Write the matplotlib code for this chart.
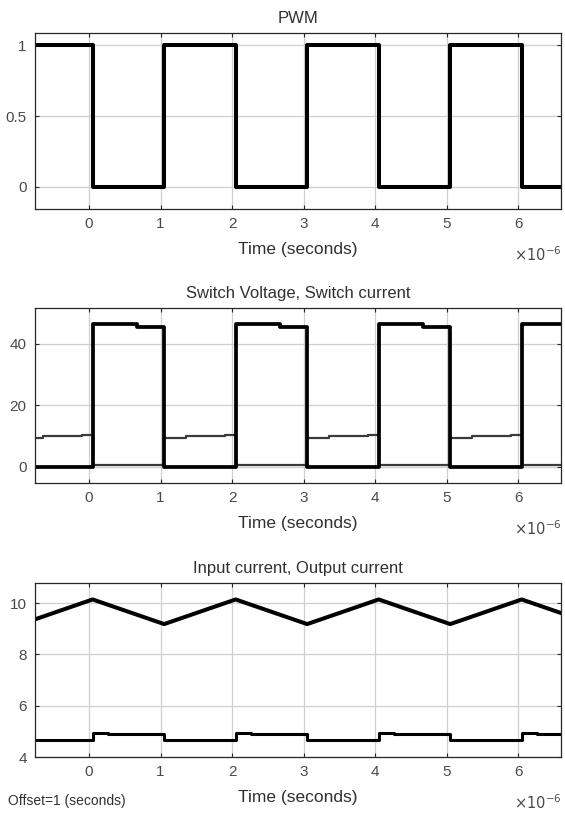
import matplotlib
matplotlib.use("Agg")
import matplotlib.pyplot as plt

plt.rcParams['font.family'] = ['Liberation Sans', 'DejaVu Sans']

# time in microseconds, relative to offset = 1 s
pwm_t = [-0.75, 0.05, 1.05, 2.05, 3.05, 4.05, 5.05, 6.05, 6.6]
pwm_v = [1, 0, 1, 0, 1, 0, 1, 0, 0]

vsw_t = [-0.75, 0.05, 0.67, 1.05, 2.05, 2.67, 3.05, 4.05, 4.67, 5.05, 6.05, 6.6]
vsw_v = [0, 46.4, 45.6, 0, 46.4, 45.6, 0, 46.4, 45.6, 0, 46.4, 46.4]

isw_t = [-0.75, -0.65, -0.1, 0.05, 1.05, 1.35, 1.9, 2.05, 3.05, 3.35, 3.9, 4.05,
         5.05, 5.35, 5.9, 6.05, 6.6]
isw_v = [9.3, 10.0, 10.5, 0.5, 9.3, 10.0, 10.5, 0.5, 9.3, 10.0, 10.5, 0.5,
         9.3, 10.0, 10.5, 0.5, 0.5]

iin_t = [-0.75, 0.05, 1.05, 2.05, 3.05, 4.05, 5.05, 6.05, 6.6]
iin_v = [9.37, 10.14, 9.18, 10.14, 9.18, 10.14, 9.18, 10.14, 9.61]

iout_t = [-0.75, 0.05, 0.27, 1.05, 2.05, 2.27, 3.05, 4.05, 4.27, 5.05, 6.05, 6.27, 6.6]
iout_v = [4.66, 4.95, 4.88, 4.66, 4.95, 4.88, 4.66, 4.95, 4.88, 4.66, 4.95, 4.88, 4.88]

xticks = [0, 1, 2, 3, 4, 5, 6]

fig = plt.figure(figsize=(5.65, 8.16), dpi=100)
boxes = [
    [0.062, 0.7439, 0.931, 0.2157],
    [0.062, 0.4081, 0.931, 0.2145],
    [0.062, 0.0723, 0.931, 0.2132],
]
titles = ["PWM", "Switch Voltage, Switch current", "Input current, Output current"]
ylims = [(-0.155, 1.085), (-5.2, 51.7), (4, 10.78)]
yticks = [[0, 0.5, 1], [0, 20, 40], [4, 6, 8, 10]]
ylabels = [["0", "0.5", "1"], ["0", "20", "40"], ["4", "6", "8", "10"]]

axes = []
for i in range(3):
    ax = fig.add_axes(boxes[i])
    ax.set_xlim(-0.755, 6.6)
    ax.set_ylim(*ylims[i])
    ax.set_xticks(xticks)
    ax.set_yticks(yticks[i])
    ax.set_yticklabels(ylabels[i])
    ax.grid(True, color='#cfcfcf', lw=0.9)
    ax.set_axisbelow(True)
    ax.tick_params(direction='in', length=3, width=0.8, colors='#262626',
                   labelcolor='#4a4a4a', labelsize=11, top=True, right=True,
                   pad=6)
    for s in ax.spines.values():
        s.set_color('#262626')
        s.set_linewidth(0.9)
    ax.set_title(titles[i], fontsize=12, color='#303030', pad=7)
    ax.set_xlabel("Time (seconds)", fontsize=12.5, color='#303030')
    ax.xaxis.set_label_coords(0.5, -0.19)
    ax.text(1.0, -0.26, r'$\times10^{-6}$', transform=ax.transAxes,
            ha='right', va='center', fontsize=10.5, color='#4a4a4a')
    axes.append(ax)

axes[0].step(pwm_t, pwm_v, where='post', color='black', lw=2.9)

axes[1].step(isw_t, isw_v, where='post', color='#3a3a3a', lw=1.6)
axes[1].step(vsw_t, vsw_v, where='post', color='black', lw=2.7)

axes[2].plot(iin_t, iin_v, color='black', lw=2.9)
axes[2].step(iout_t, iout_v, where='post', color='black', lw=2.2)

fig.text(0.014, 0.018, "Offset=1 (seconds)", fontsize=10, color='#303030',
         ha='left', va='center')

fig.savefig("out.png", dpi=100)
